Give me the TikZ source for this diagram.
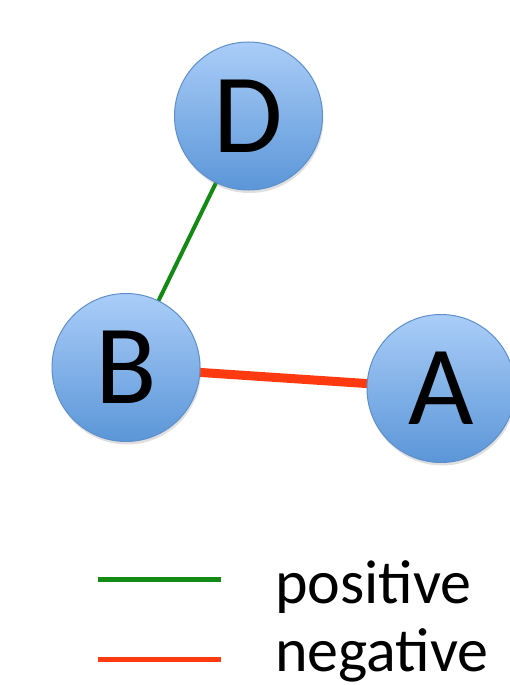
\documentclass[tikz,border=0pt]{standalone}
\usepackage{fontspec}
\setmainfont{Carlito}
\usetikzlibrary{backgrounds,shadows}
\definecolor{nodetop}{HTML}{AACDF8}
\definecolor{nodebot}{HTML}{5B96D8}
\definecolor{nodeedge}{HTML}{5E8FCB}
\definecolor{posgreen}{HTML}{138A13}
\definecolor{negred}{HTML}{FF3A10}
\tikzset{
  vertex/.style={circle, minimum size=148pt, inner sep=0pt, draw=nodeedge, line width=1pt,
    top color=nodetop, bottom color=nodebot,
    drop shadow={opacity=0.25, shadow xshift=1pt, shadow yshift=-3pt},
    font=\fontsize{113}{113}\selectfont, text=black},
  posedge/.style={draw=posgreen, line width=4pt},
  negedge/.style={draw=negred, line width=9pt},
  legpos/.style={draw=posgreen, line width=5pt},
  legneg/.style={draw=negred, line width=5pt},
  legtext/.style={anchor=base west, inner sep=0pt, font=\fontsize{62}{62}\selectfont}
}
\begin{document}
\begin{tikzpicture}[x=1pt,y=-1pt]
\useasboundingbox (0,0) rectangle (509,685);
\node[vertex] (D) at (248.5,116) {D};
\node[vertex] (B) at (126,367.5) {B};
\node[vertex] (A) at (441,388.5) {A};
\begin{pgfonlayer}{background}
\draw[posedge] (D.center) -- (B.center);
\draw[negedge] (B.center) -- (A.center);
\end{pgfonlayer}
\coordinate (p1) at (98,579);
\coordinate (p2) at (221,579);
\coordinate (n1) at (98,659);
\coordinate (n2) at (221,659);
\draw[legpos] (p1) -- (p2);
\draw[legneg] (n1) -- (n2);
\node[legtext] (pos) at (275,603) {positive};
\node[legtext] (neg) at (275,671) {negative};
\end{tikzpicture}
\end{document}
